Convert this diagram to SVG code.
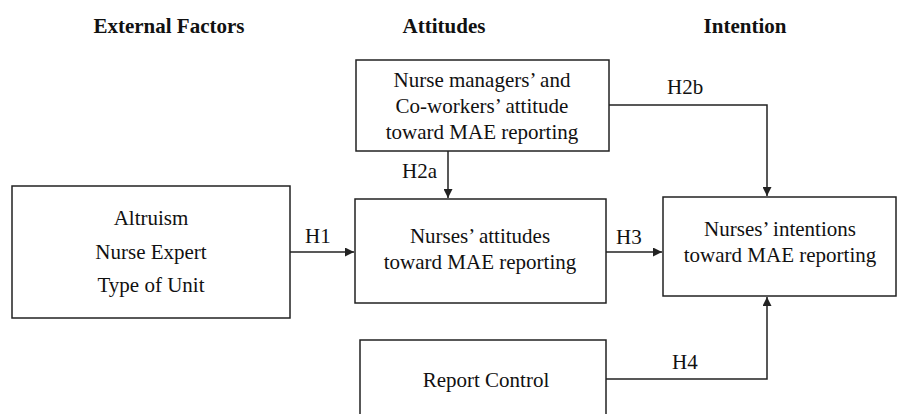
<svg xmlns="http://www.w3.org/2000/svg" width="897" height="414" viewBox="0 0 897 414">
<defs>
<style>
.box{fill:#fff;stroke:#222;stroke-width:1.5}
.t{font-family:"Liberation Serif","Times New Roman",serif;font-size:21px;fill:#111;text-anchor:middle}
.h{font-family:"Liberation Serif","Times New Roman",serif;font-size:21px;font-weight:bold;fill:#111;text-anchor:middle}
.l{font-family:"Liberation Serif","Times New Roman",serif;font-size:21px;fill:#111}
.c{fill:none;stroke:#222;stroke-width:1.5}
</style>
<marker id="ar" viewBox="0 0 10 10" refX="10" refY="5" markerWidth="9" markerHeight="9" markerUnits="userSpaceOnUse" orient="auto"><path d="M0,0L10,5L0,10z" fill="#222"/></marker>
</defs>
<rect width="897" height="414" fill="#fff"/>
<g id="headers">
<text class="h" x="169" y="33">External Factors</text>
<text class="h" x="444" y="33">Attitudes</text>
<text class="h" x="745" y="33">Intention</text>
</g>
<g id="n-coworkers">
<rect class="box" x="356" y="60" width="253" height="91"/>
<text class="t" x="482" y="87">Nurse managers’ and</text>
<text class="t" x="482" y="113">Co-workers’ attitude</text>
<text class="t" x="482" y="139">toward MAE reporting</text>
</g>
<g id="n-external">
<rect class="box" x="12" y="186" width="278" height="132"/>
<text class="t" x="151" y="225">Altruism</text>
<text class="t" x="151" y="259">Nurse Expert</text>
<text class="t" x="151" y="292">Type of Unit</text>
</g>
<g id="n-attitudes">
<rect class="box" x="355" y="199" width="251" height="104"/>
<text class="t" x="480" y="243">Nurses’ attitudes</text>
<text class="t" x="480" y="269">toward MAE reporting</text>
</g>
<g id="n-intentions">
<rect class="box" x="663" y="197" width="233" height="99"/>
<text class="t" x="780" y="236">Nurses’ intentions</text>
<text class="t" x="780" y="262">toward MAE reporting</text>
</g>
<g id="n-control">
<rect class="box" x="360" y="340" width="246" height="90"/>
<text class="t" x="486" y="387">Report Control</text>
</g>
<g id="connectors">
<path class="c" d="M448,151V198" marker-end="url(#ar)"/>
<path class="c" d="M609,105H767V196" marker-end="url(#ar)"/>
<path class="c" d="M290,252H354" marker-end="url(#ar)"/>
<path class="c" d="M606,252H662" marker-end="url(#ar)"/>
<path class="c" d="M606,379H767V297" marker-end="url(#ar)"/>
<text class="l" x="402" y="178">H2a</text>
<text class="l" x="667" y="94">H2b</text>
<text class="l" x="305" y="243">H1</text>
<text class="l" x="616" y="244">H3</text>
<text class="l" x="672" y="369">H4</text>
</g>
</svg>
